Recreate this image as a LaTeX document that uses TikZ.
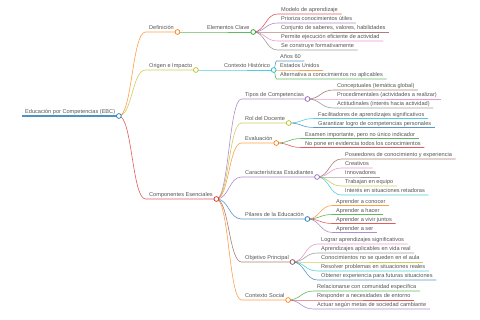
\documentclass[tikz,border=0pt]{standalone}
\usepackage{fontspec}
\setmainfont{Liberation Sans}
\usetikzlibrary{calc}
\definecolor{cblue}{HTML}{1F77B4}
\definecolor{corange}{HTML}{FF7F0E}
\definecolor{cgreen}{HTML}{2CA02C}
\definecolor{cred}{HTML}{D62728}
\definecolor{cpurple}{HTML}{9467BD}
\definecolor{cbrown}{HTML}{8C564B}
\definecolor{cpink}{HTML}{E377C2}
\definecolor{cgray}{HTML}{7F7F7F}
\definecolor{colive}{HTML}{BCBD22}
\definecolor{ccyan}{HTML}{17BECF}
\definecolor{textgray}{HTML}{555555}
% curved link from a parent's knob to the child's underline
\newcommand{\branch}[3]{\draw[link,#3] let \p1=(#1.south east), \p2=(#2.south west) in (\p1) .. controls ({(\x1+\x2)/2},\y1) and ({(\x1+\x2)/2},\y2) .. (\p2) -- (#2.south east);}

\begin{document}
\begin{tikzpicture}[x=1pt,y=-1pt,
  topic/.style={anchor=south west, inner xsep=3.5pt, inner ysep=0.8pt, text height=4.2pt, text depth=1.2pt, font=\fontsize{5.6}{6}\selectfont, text=textgray},
  link/.style={line width=0.6pt, draw opacity=0.75},
  knob/.style={fill=white, line width=0.7pt}]
\useasboundingbox (0,0) rectangle (480,320);

% root and main branches
\node[topic] (root) at (21.5,116) {Educación por Competencias (EBC)};
\node[topic] (def) at (145.5,32) {Definición};
\node[topic] (orig) at (145.5,70) {Origen e Impacto};
\node[topic] (comp) at (145.5,199) {Componentes Esenciales};

% Definicion
\node[topic] (elem) at (203.5,32) {Elementos Clave};
\node[topic] (e1) at (277.5,14) {Modelo de aprendizaje};
\node[topic] (e2) at (277.5,23) {Prioriza conocimientos útiles};
\node[topic] (e3) at (277.5,32) {Conjunto de saberes, valores, habilidades};
\node[topic] (e4) at (277.5,41) {Permite ejecución eficiente de actividad};
\node[topic] (e5) at (277.5,50) {Se construye formativamente};

% Origen
\node[topic] (hist) at (220.5,70) {Contexto Histórico};
\node[topic] (h1) at (276.5,61) {Años 60};
\node[topic] (h2) at (276.5,70) {Estados Unidos};
\node[topic] (h3) at (276.5,79) {Alternativa a conocimientos no aplicables};

% Componentes
\node[topic] (tipos) at (241.5,99) {Tipos de Competencias};
\node[topic] (t1) at (333.5,90) {Conceptuales (temática global)};
\node[topic] (t2) at (333.5,99) {Procedimentales (actividades a realizar)};
\node[topic] (t3) at (333.5,108) {Actitudinales (interés hacia actividad)};

\node[topic] (rol) at (241.5,123) {Rol del Docente};
\node[topic] (r1) at (314.5,118.5) {Facilitadores de aprendizajes significativos};
\node[topic] (r2) at (314.5,127.5) {Garantizar logro de competencias personales};

\node[topic] (eval) at (241.5,143) {Evaluación};
\node[topic] (v1) at (301.5,138.5) {Examen importante, pero no único indicador};
\node[topic] (v2) at (301.5,147.5) {No pone en evidencia todos los conocimientos};

\node[topic] (carac) at (241.5,177) {Características Estudiantes};
\node[topic] (c1) at (341.5,159) {Poseedores de conocimiento y experiencia};
\node[topic] (c2) at (341.5,168) {Creativos};
\node[topic] (c3) at (341.5,177) {Innovadores};
\node[topic] (c4) at (341.5,186) {Trabajan en equipo};
\node[topic] (c5) at (341.5,195) {Interés en situaciones retadoras};

\node[topic] (pil) at (241.5,219) {Pilares de la Educación};
\node[topic] (p1) at (332.5,205.5) {Aprender a conocer};
\node[topic] (p2) at (332.5,214.5) {Aprender a hacer};
\node[topic] (p3) at (332.5,223.5) {Aprender a vivir juntos};
\node[topic] (p4) at (332.5,232.5) {Aprender a ser};

\node[topic] (obj) at (241.5,262) {Objetivo Principal};
\node[topic] (o1) at (317.5,244) {Lograr aprendizajes significativos};
\node[topic] (o2) at (317.5,253) {Aprendizajes aplicables en vida real};
\node[topic] (o3) at (317.5,262) {Conocimientos no se queden en el aula};
\node[topic] (o4) at (317.5,271) {Resolver problemas en situaciones reales};
\node[topic] (o5) at (317.5,280) {Obtener experiencia para futuras situaciones};

\node[topic] (soc) at (241.5,300) {Contexto Social};
\node[topic] (s1) at (313.5,291) {Relacionarse con comunidad específica};
\node[topic] (s2) at (313.5,300) {Responder a necesidades de entorno};
\node[topic] (s3) at (313.5,309) {Actuar según metas de sociedad cambiante};

% links
\draw[cblue, line width=1.1pt, draw opacity=0.8] (root.south west) -- (root.south east);
\foreach \a/\b/\c in {root/def/corange, root/orig/colive, root/comp/cred,
  def/elem/cgreen, elem/e1/cred, elem/e2/cpurple, elem/e3/cbrown, elem/e4/cpink, elem/e5/cgray,
  orig/hist/ccyan, hist/h1/cblue, hist/h2/corange, hist/h3/cgreen,
  comp/tipos/cpurple, tipos/t1/cbrown, tipos/t2/cpink, tipos/t3/cgray,
  comp/rol/colive, rol/r1/ccyan, rol/r2/cblue,
  comp/eval/corange, eval/v1/cgreen, eval/v2/cred,
  comp/carac/cpurple, carac/c1/cbrown, carac/c2/cpink, carac/c3/cgray, carac/c4/colive, carac/c5/ccyan,
  comp/pil/cblue, pil/p1/corange, pil/p2/cgreen, pil/p3/cred, pil/p4/cpurple,
  comp/obj/cbrown, obj/o1/cpink, obj/o2/cgray, obj/o3/colive, obj/o4/ccyan, obj/o5/cblue,
  comp/soc/corange, soc/s1/cgreen, soc/s2/cred, soc/s3/cpurple}
  {\branch{\a}{\b}{\c}}

% knobs
\foreach \n/\c in {root/cblue, def/corange, elem/cgreen, orig/colive, hist/ccyan, comp/cred,
  tipos/cpurple, rol/colive, eval/corange, carac/cpurple, pil/cblue, obj/cbrown, soc/corange}
  \draw[draw=\c, knob] (\n.south east) circle (2.4pt);
\end{tikzpicture}
\end{document}
